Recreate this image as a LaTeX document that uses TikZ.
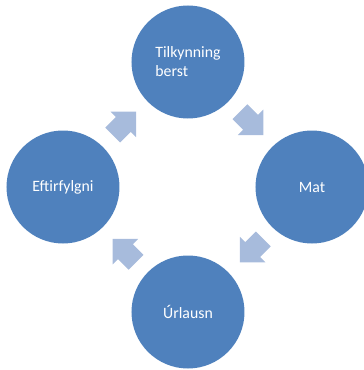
\documentclass[tikz,border=0pt]{standalone}
\usepackage{fontspec}
\setmainfont{Carlito}
\usepackage{xcolor}
\usepackage{tikz}
\definecolor{stageblue}{RGB}{79,129,189}
\definecolor{arrowblue}{RGB}{167,187,220}
\tikzstyle{stage} = [circle, minimum size=113pt, inner sep=0pt, fill=stageblue, text=white, align=left, font=\fontsize{15.8}{19}\selectfont]
\tikzstyle{blockarrow} = [fill=arrowblue]

\begin{document}
\begin{tikzpicture}[x=1pt, y=1pt, node distance=125pt]
            \useasboundingbox (-188,-183) rectangle (176,187);
            \coordinate (centre) at (0,0);
            \node (tilkynning) [stage, above of=centre] {Tilkynning\\berst};
            \node (mat) [stage, right of=centre, xshift=-1pt] {Mat};
            \node (urlausn) [stage, below of=centre] {Úrlausn};
            \node (eftirfylgni) [stage, left of=centre] {Eftirfylgni};
            
            % block arrows going round clockwise
            \foreach \a in {45,-45,-135,135}
                \fill [blockarrow, shift={(\a:90)}, rotate=\a-90]
                    (-16.5,-10.5) -- (-1.5,-10.5) -- (-1.5,-18) -- (16.5,0)
                    -- (-1.5,18) -- (-1.5,10.5) -- (-16.5,10.5) -- cycle;
        \end{tikzpicture}
\end{document}
